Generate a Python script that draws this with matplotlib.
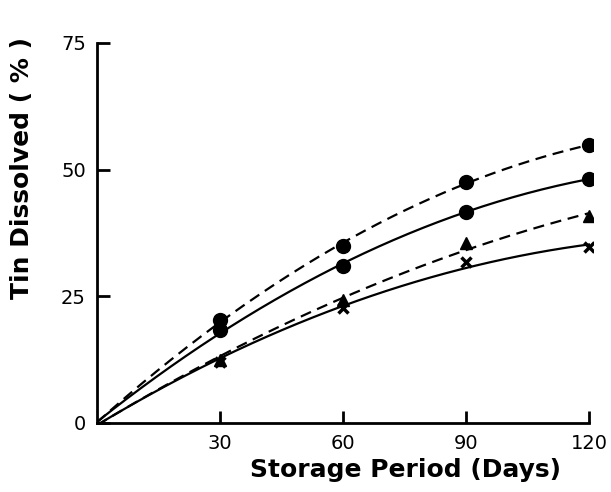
import matplotlib.pyplot as plt
import numpy as np

# storage period (days) and tin dissolved (%) for the four samples
days = [0, 30, 60, 90, 120]
tin_a = [0, 20.3, 35.0, 47.6, 54.8]   # dashed, filled circles
tin_b = [0, 18.3, 31.0, 41.7, 48.2]   # solid, filled circles
tin_c = [0, 12.5, 24.2, 35.5, 40.8]   # dashed, triangles
tin_d = [0, 12.1, 22.7, 31.8, 34.7]   # solid, crosses

series = [
    (tin_a, (0, (5, 3)), 'o', 10),
    (tin_b, '-', 'o', 10),
    (tin_c, (0, (5, 3)), '^', 8),
    (tin_d, '-', 'x', 7),
]

fig = plt.figure(figsize=(6.11, 4.92), dpi=100)
ax = fig.add_axes([97 / 611, 1 - 423 / 492, 496 / 611, 380 / 492])

xs = np.linspace(0, 120, 200)
for vals, ls, mk, ms in series:
    # smooth curve through the origin and the measured points
    coef = np.polyfit(days, vals, 2)
    ax.plot(xs, np.polyval(coef, xs), color='black', lw=1.6, ls=ls)
    ax.plot(days[1:], vals[1:], ls='none', marker=mk, color='black',
            ms=ms, mew=2.5 if mk == 'x' else 1)

ax.set_xlim(0, 121)
ax.set_ylim(0, 75)
ax.set_xticks([30, 60, 90, 120])
ax.set_yticks([0, 25, 50, 75])
ax.tick_params(direction='in', length=9, width=2, labelsize=14, pad=8)
for side in ['top', 'right']:
    ax.spines[side].set_visible(False)
for side in ['left', 'bottom']:
    ax.spines[side].set_linewidth(2)
ax.spines['bottom'].set_bounds(0, 120)

fig.text(406 / 611, 1 - 470 / 492, 'Storage Period (Days)', ha='center',
         va='center', fontsize=18, fontweight='bold')
fig.text(22 / 611, 1 - 168 / 492, 'Tin Dissolved ( % )', ha='center',
         va='center', rotation=90, fontsize=18, fontweight='bold')

fig.savefig('out.png', dpi=100)
